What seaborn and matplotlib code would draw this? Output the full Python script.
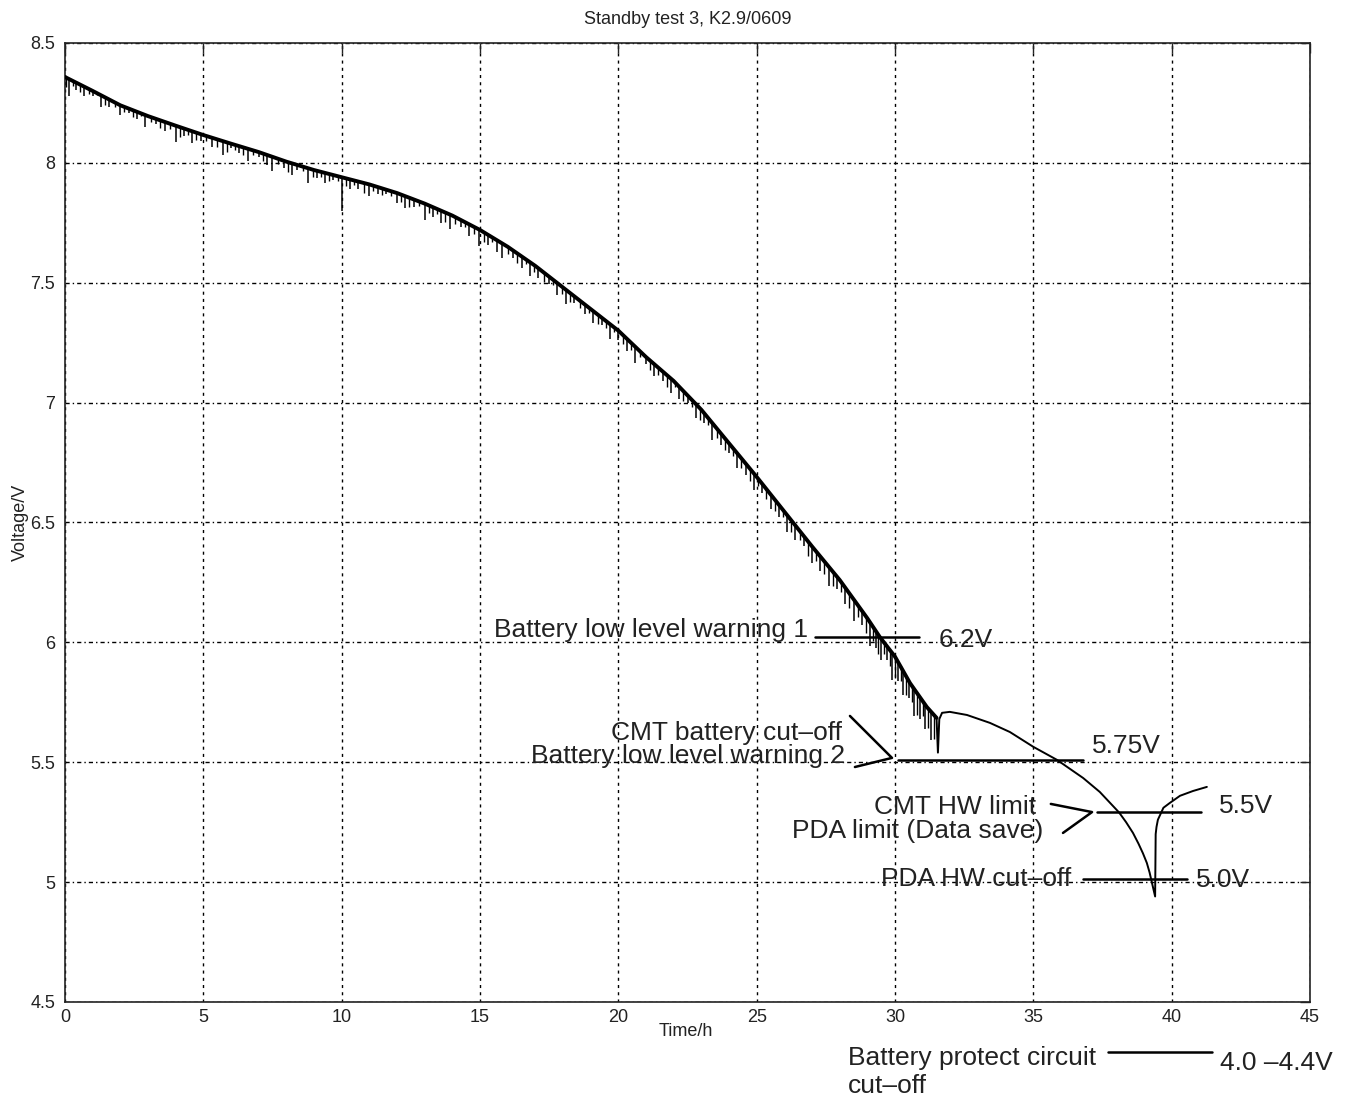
import numpy as np
import pandas as pd
import seaborn as sns
import matplotlib
matplotlib.use('Agg')
import matplotlib.pyplot as plt

# upper edge of the discharge curve up to the CMT cut-off
time_h = [0, 1, 2, 3, 4, 5, 6, 7, 8, 9, 10, 11, 12, 13, 14, 15, 16, 17, 18, 19, 20,
          21, 22, 23, 24, 25, 26, 27, 28, 29, 29.45, 30.0, 30.54, 31.15, 31.5]
voltage = [8.358, 8.30, 8.24, 8.195, 8.155, 8.116, 8.08, 8.045, 8.005, 7.97, 7.94,
           7.91, 7.874, 7.83, 7.78, 7.72, 7.65, 7.57, 7.48, 7.39, 7.30, 7.19, 7.09,
           6.97, 6.83, 6.69, 6.545, 6.40, 6.26, 6.10, 6.022, 5.94, 5.83, 5.73, 5.685]

# load dips hanging below the curve (time, depth in V)
spike_t = [0.15, 0.4, 0.7, 1.0, 1.3, 1.6, 2.0, 2.3, 2.6, 2.9,
           3.3, 3.6, 4.0, 4.3, 4.6, 4.9, 5.3, 5.7, 6.0, 6.3,
           6.6, 7.0, 7.3, 7.5, 7.9, 8.2, 8.4, 8.8, 9.1, 9.4,
           9.7, 10.0, 10.3, 10.6, 11.0, 11.3, 11.6, 12.0, 12.3, 12.6,
           13.0, 13.3, 13.6, 13.9, 14.3, 14.6, 14.96, 15.3, 15.6, 15.8,
           16.2, 16.5, 16.8, 17.1, 17.5, 17.8, 18.1, 18.4, 18.8, 19.1,
           19.4, 19.7, 20.0, 20.3, 20.6, 21.0, 21.3, 21.6, 21.9, 22.2,
           22.5, 22.8, 23.1, 23.4, 23.7, 24.0, 24.3, 24.6, 24.9, 25.2,
           25.5, 25.8, 26.1, 26.4, 26.7, 27.0, 27.3, 27.6, 27.9, 28.2,
           28.5, 28.8, 29.1, 29.3, 29.5, 29.7, 29.9, 30.1, 30.3, 30.5,
           30.7, 30.9, 31.1, 31.3]
spike_depth = [0.07, 0.03, 0.04, 0.02, 0.05, 0.03, 0.04, 0.02, 0.03, 0.05,
               0.02, 0.04, 0.07, 0.03, 0.05, 0.03, 0.04, 0.06, 0.02, 0.03,
               0.05, 0.02, 0.04, 0.06, 0.03, 0.05, 0.02, 0.06, 0.03, 0.04,
               0.02, 0.14, 0.04, 0.03, 0.05, 0.03, 0.02, 0.04, 0.05, 0.03,
               0.07, 0.04, 0.05, 0.06, 0.03, 0.05, 0.07, 0.04, 0.05, 0.06,
               0.03, 0.05, 0.06, 0.04, 0.03, 0.05, 0.06, 0.03, 0.04, 0.05,
               0.03, 0.06, 0.04, 0.05, 0.07, 0.03, 0.05, 0.04, 0.06, 0.05,
               0.03, 0.06, 0.04, 0.07, 0.05, 0.04, 0.06, 0.05, 0.07, 0.04,
               0.06, 0.05, 0.07, 0.06, 0.04, 0.07, 0.06, 0.08, 0.05, 0.07,
               0.09, 0.06, 0.10, 0.07, 0.09, 0.06, 0.11, 0.08, 0.10, 0.07,
               0.11, 0.09, 0.10, 0.12]
minor_t = [0.05, 0.3, 0.55, 0.85, 1.15, 1.45, 1.8, 2.15, 2.45, 2.75,
           3.1, 3.45, 3.8, 4.15, 4.45, 4.75, 5.1, 5.5, 5.85, 6.15,
           6.45, 6.8, 7.15, 7.7, 8.05, 8.6, 8.95, 9.25, 9.55, 9.85,
           10.15, 10.45, 10.8, 11.15, 11.45, 11.8, 12.15, 12.45, 12.8, 13.15,
           13.45, 13.75, 14.1, 14.45, 14.8, 15.15, 15.45, 16.0, 16.35, 16.65,
           16.95, 17.3, 17.65, 17.95, 18.25, 18.6, 18.95, 19.25, 19.55, 19.85,
           20.15, 20.45, 20.8, 21.15, 21.45, 21.75, 22.05, 22.35, 22.65, 22.95,
           23.25, 23.55, 23.85, 24.15, 24.45, 24.75, 25.05, 25.35, 25.65, 25.95,
           26.25, 26.55, 26.85, 27.15, 27.45, 27.75, 28.05, 28.35, 28.65, 28.95,
           29.2, 29.4, 29.6, 29.8, 30.0, 30.2, 30.4, 30.6, 30.8, 31.0, 31.2, 31.4]
minor_depth = [0.04, 0.02, 0.03, 0.02, 0.01, 0.03, 0.02, 0.02, 0.03, 0.01,
               0.02, 0.03, 0.02, 0.04, 0.02, 0.03, 0.02, 0.03, 0.04, 0.02,
               0.03, 0.02, 0.03, 0.02, 0.04, 0.02, 0.03, 0.02, 0.03, 0.02,
               0.03, 0.02, 0.04, 0.02, 0.03, 0.02, 0.03, 0.04, 0.02, 0.03,
               0.02, 0.04, 0.03, 0.02, 0.03, 0.04, 0.02, 0.03, 0.04, 0.02,
               0.03, 0.04, 0.02, 0.03, 0.04, 0.03, 0.02, 0.04, 0.03, 0.02,
               0.04, 0.03, 0.02, 0.04, 0.03, 0.05, 0.02, 0.04, 0.03, 0.05,
               0.03, 0.04, 0.05, 0.03, 0.04, 0.05, 0.03, 0.04, 0.05, 0.03,
               0.05, 0.04, 0.06, 0.04, 0.05, 0.06, 0.04, 0.06, 0.05, 0.07,
               0.06, 0.08, 0.05, 0.07, 0.09, 0.06, 0.08, 0.07, 0.09, 0.06, 0.08, 0.10]

# after the CMT cut-off: recovery, decline, PDA cut-off and recovery
tail_t = [31.5, 31.55, 31.6, 31.7, 31.98, 32.6, 33.43, 34.15, 35.0, 35.85, 36.8, 37.4,
          38.1, 38.35, 38.6, 38.8, 38.96, 39.1, 39.2, 39.3, 39.4, 39.42, 39.45, 39.5,
          39.7, 39.93, 40.3, 40.77, 41.27]
tail_v = [5.685, 5.54, 5.68, 5.706, 5.71, 5.697, 5.664, 5.626, 5.564, 5.51, 5.434, 5.376,
          5.29, 5.25, 5.205, 5.16, 5.12, 5.08, 5.04, 4.99, 4.94, 5.20, 5.23, 5.26,
          5.31, 5.33, 5.36, 5.38, 5.397]

xticks = [0, 5, 10, 15, 20, 25, 30, 35, 40, 45]
yticks = [4.5, 5, 5.5, 6, 6.5, 7, 7.5, 8, 8.5]
ytick_labels = ['4.5', '5', '5.5', '6', '6.5', '7', '7.5', '8', '8.5']

sns.set_theme(style='white')
plt.rcParams['font.family'] = ['Liberation Sans', 'DejaVu Sans']

fig = plt.figure(figsize=(13.51, 10.99), dpi=100)
ax = fig.add_axes([0.0481, 0.0883, 0.9216, 0.8726])

df = pd.DataFrame({'t': time_h, 'v': voltage})
sns.lineplot(data=df, x='t', y='v', color='black', lw=2.8, sort=False,
             estimator=None, ax=ax, zorder=3)
tops = np.interp(spike_t, time_h, voltage)
ax.vlines(spike_t, tops - np.array(spike_depth), tops, color='black', lw=1.1, zorder=3)
tops2 = np.interp(minor_t, time_h, voltage)
ax.vlines(minor_t, tops2 - np.array(minor_depth), tops2, color='black', lw=1.0, zorder=3)
sns.lineplot(x=tail_t, y=tail_v, color='black', lw=1.4, sort=False,
             estimator=None, ax=ax, zorder=3)

# threshold markers
kw = dict(color='black', lw=1.8, zorder=4)
ax.plot([27.1, 30.86], [6.022, 6.022], **kw)
ax.plot([30.1, 36.8], [5.51, 5.51], **kw)
ax.plot([28.37, 29.89, 28.55], [5.693, 5.518, 5.48], **kw)
ax.plot([37.3, 41.05], [5.294, 5.294], **kw)
ax.plot([35.63, 37.12, 36.07], [5.326, 5.292, 5.205], **kw)
ax.plot([36.8, 40.55], [5.013, 5.013], **kw)
ax.plot([37.7, 41.45], [4.291, 4.291], clip_on=False, **kw)

tk = dict(fontsize=19, color='#222222', va='baseline')
ax.text(26.85, 6.022, 'Battery low level warning 1', ha='right', **tk)
ax.text(31.59, 5.98, '6.2V', ha='left', **tk)
ax.text(28.08, 5.593, 'CMT battery cut–off', ha='right', **tk)
ax.text(28.19, 5.498, 'Battery low level warning 2', ha='right', **tk)
ax.text(37.1, 5.54, '5.75V', ha='left', **tk)
ax.text(35.09, 5.282, 'CMT HW limit', ha='right', **tk)
ax.text(35.35, 5.185, 'PDA limit (Data save)', ha='right', **tk)
ax.text(41.7, 5.288, '5.5V', ha='left', **tk)
ax.text(36.36, 4.985, 'PDA HW cut–off', ha='right', **tk)
ax.text(40.87, 4.98, '5.0V', ha='left', **tk)
ax.text(28.3, 4.237, 'Battery protect circuit', ha='left', clip_on=False, **tk)
ax.text(28.3, 4.12, 'cut–off', ha='left', clip_on=False, **tk)
ax.text(41.74, 4.216, '4.0 –4.4V', ha='left', clip_on=False, **tk)

ax.set_xlim(0, 45)
ax.set_ylim(4.5, 8.5)
ax.set_xticks(xticks)
ax.set_xticklabels([str(x) for x in xticks])
ax.set_yticks(yticks)
ax.set_yticklabels(ytick_labels)
ax.xaxis.grid(True, color='black', lw=1.0, linestyle=(0, (2.2, 3.0)))
ax.yaxis.grid(True, color='black', lw=1.0, linestyle=(0, (3.0, 2.2, 1.0, 2.2)))
ax.set_axisbelow(True)
ax.tick_params(direction='in', length=7, width=1, top=True, right=True,
               labelsize=13, colors='#222222')
ax.tick_params(axis='y', pad=7)
ax.tick_params(axis='x', pad=5)
for s in ax.spines.values():
    s.set_color('#222222')
    s.set_linewidth(1.2)

ax.set_xlabel('Time/h', fontsize=13, color='#222222')
ax.set_ylabel('Voltage/V', fontsize=13, color='#222222')
ax.xaxis.set_label_coords(0.499, -0.022)
ax.yaxis.set_label_coords(-0.029, 0.5)
ax.set_title('Standby test 3, K2.9/0609', fontsize=13, color='#222222', pad=14)

fig.savefig('out.png', dpi=100)
